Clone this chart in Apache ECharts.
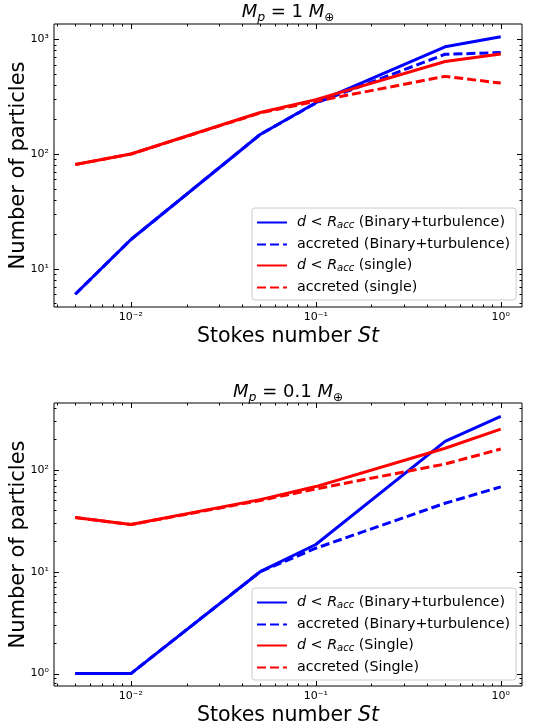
<!DOCTYPE html>
<html>
<head>
<meta charset="utf-8">
<script src="https://cdn.jsdelivr.net/npm/echarts@6/dist/echarts.min.js"></script>
<style>
html,body{margin:0;padding:0;background:#fff;}
#c{width:537px;height:727px;}
</style>
</head>
<body>
<div id="c"></div>
<script>
// ---------- data ----------
const stokes = [0.005, 0.01, 0.05, 0.1, 0.5, 1];

// Top panel: M_p = 1 M_earth
const topBinaryRacc     = [6, 18, 148, 280, 860, 1050];
const topBinaryAccreted = [6, 18, 148, 278, 740, 765];
const topSingleRacc     = [81, 100, 230, 298, 640, 745];
const topSingleAccreted = [81, 100, 228, 288, 475, 415];

// Bottom panel: M_p = 0.1 M_earth
const botBinaryRacc     = [1, 1, 10, 18.5, 190, 335];
const botBinaryAccreted = [1, 1, 10, 17, 47, 68];
const botSingleRacc     = [34, 29, 51, 68.5, 163, 251];
const botSingleAccreted = [34, 29, 50, 65, 114, 160];

const xMajorTicks = [0.01, 0.1, 1];
const yMajorTicksTop = [10, 100, 1000];
const yMajorTicksBot = [1, 10, 100];

const topTitle = '{i|M}{sp|p}{n| = 1 }{i|M}{so|⊕}';
const botTitle = '{i|M}{sp|p}{n| = 0.1 }{i|M}{so|⊕}';
const xLabel = '{n|Stokes number }{i|St}';
const yLabel = 'Number of particles';

const topLegend = [
  '{i|d}{n| < }{i|R}{s|acc}{n| (Binary+turbulence)}',
  '{n|accreted (Binary+turbulence)}',
  '{i|d}{n| < }{i|R}{s|acc}{n| (single)}',
  '{n|accreted (single)}'
];
const botLegend = [
  '{i|d}{n| < }{i|R}{s|acc}{n| (Binary+turbulence)}',
  '{n|accreted (Binary+turbulence)}',
  '{i|d}{n| < }{i|R}{s|acc}{n| (Single)}',
  '{n|accreted (Single)}'
];

// ---------- helpers ----------
const FONT = 'DejaVu Sans';
const BLUE = '#0000ff', RED = '#ff0000';
const xMin = Math.pow(10, -2.416), xMax = Math.pow(10, 0.115);
const yRangeTop = [Math.pow(10, 0.667), Math.pow(10, 3.133)];
const yRangeBot = [Math.pow(10, -0.122), Math.pow(10, 2.656)];

const supMap = {'-':'⁻','0':'⁰','1':'¹','2':'²','3':'³','4':'⁴','5':'⁵','6':'⁶','7':'⁷','8':'⁸','9':'⁹'};
function powLabel(v) {
  const e = Math.log10(v), r = Math.round(e);
  if (Math.abs(e - r) > 1e-6) return '';
  return '10' + String(r).split('').map(c => supMap[c]).join('');
}
function pairs(ys) { return stokes.map((x, i) => [x, ys[i]]); }

function minorList(lo, hi) {
  const out = [];
  for (let k = -4; k <= 4; k++) {
    for (let m = 2; m <= 9; m++) {
      const v = m * Math.pow(10, k);
      if (v > lo && v < hi) out.push(v);
    }
  }
  return out;
}
function tickData(xMaj, yMaj, yr) {
  const d = [];
  xMaj.forEach(v => d.push([v, yr[0], 1]));
  minorList(xMin, xMax).forEach(v => d.push([v, yr[0], 2]));
  yMaj.forEach(v => d.push([xMin, v, 3]));
  minorList(yr[0], yr[1]).forEach(v => d.push([xMin, v, 4]));
  return d;
}
function renderTicks(params, api) {
  const cs = params.coordSys;
  const kind = api.value(2);
  const st = {stroke: '#000', lineWidth: 1};
  if (kind === 1 || kind === 2) {
    const L = kind === 1 ? 5 : 2.5;
    const x = Math.round(api.coord([api.value(0), api.value(1)])[0]) + 0.5;
    const yb = cs.y + cs.height, yt = cs.y;
    return {type: 'group', children: [
      {type: 'line', shape: {x1: x, y1: yb, x2: x, y2: yb - L}, style: st},
      {type: 'line', shape: {x1: x, y1: yt, x2: x, y2: yt + L}, style: st}
    ]};
  } else {
    const L = kind === 3 ? 5 : 2.5;
    const y = Math.round(api.coord([api.value(0), api.value(1)])[1]) + 0.5;
    const xl = cs.x, xr = cs.x + cs.width;
    return {type: 'group', children: [
      {type: 'line', shape: {x1: xl, y1: y, x2: xl + L, y2: y}, style: st},
      {type: 'line', shape: {x1: xr, y1: y, x2: xr - L, y2: y}, style: st}
    ]};
  }
}

const titleRich = {
  i: {fontFamily: FONT, fontStyle: 'italic', fontWeight: 'normal', fontSize: 18, color: '#000', lineHeight: 21, verticalAlign: 'top'},
  n: {fontFamily: FONT, fontWeight: 'normal', fontSize: 18, color: '#000', lineHeight: 21, verticalAlign: 'top'},
  sp: {fontFamily: FONT, fontStyle: 'italic', fontWeight: 'normal', fontSize: 12.5, color: '#000', lineHeight: 14, verticalAlign: 'bottom'},
  so: {fontFamily: FONT, fontWeight: 'normal', fontSize: 12, color: '#000', lineHeight: 15, verticalAlign: 'bottom'}
};
const nameRich = {
  n: {fontFamily: FONT, fontSize: 20.5, color: '#000'},
  i: {fontFamily: FONT, fontSize: 20.5, fontStyle: 'italic', color: '#000'}
};
const legendRich = {
  n: {fontFamily: FONT, fontSize: 14.3, color: '#000', lineHeight: 15, verticalAlign: 'top'},
  i: {fontFamily: FONT, fontSize: 14.3, fontStyle: 'italic', color: '#000', lineHeight: 15, verticalAlign: 'top'},
  s: {fontFamily: FONT, fontSize: 10, fontStyle: 'italic', color: '#000', lineHeight: 12, verticalAlign: 'bottom'}
};

function xAxisDef(gridIndex) {
  return {
    type: 'log', logBase: 10, gridIndex, min: xMin, max: xMax, splitNumber: 3,
    axisLine: {show: false}, axisTick: {show: false}, splitLine: {show: false},
    axisLabel: {formatter: powLabel, fontFamily: FONT, fontSize: 11, color: '#000', margin: 5,
                showMinLabel: true, showMaxLabel: true, hideOverlap: false},
    name: xLabel, nameLocation: 'middle', nameGap: 19, nameMoveOverlap: false,
    nameTextStyle: {rich: nameRich, fontFamily: FONT, fontSize: 20.5, color: '#000', verticalAlign: 'top'}
  };
}
function yAxisDef(gridIndex, yr) {
  return {
    type: 'log', logBase: 10, gridIndex, min: yr[0], max: yr[1], splitNumber: 3,
    axisLine: {show: false}, axisTick: {show: false}, splitLine: {show: false},
    axisLabel: {formatter: powLabel, fontFamily: FONT, fontSize: 11, color: '#000', margin: 5,
                hideOverlap: false},
    name: yLabel, nameLocation: 'middle', nameGap: 25, nameRotate: 90, nameMoveOverlap: false,
    nameTextStyle: {fontFamily: FONT, fontSize: 21, color: '#000'}
  };
}
function lineSeries(name, ys, color, dashed, gi) {
  return {
    name, type: 'line', xAxisIndex: gi, yAxisIndex: gi, data: pairs(ys),
    symbol: 'none', showSymbol: false, animation: false, silent: true,
    lineStyle: {color, width: 3, type: dashed ? [9, 4] : 'solid', cap: 'butt', join: 'round'},
    itemStyle: {color}
  };
}
function legendDef(top, names, labels) {
  const map = {};
  names.forEach((n, i) => map[n] = labels[i]);
  return {
    data: names, orient: 'vertical', left: 252, top, selectedMode: false,
    itemWidth: 30, itemHeight: 14, itemGap: 7,
    padding: [7, 6, 6, 4],
    itemStyle: {opacity: 0, borderWidth: 0},
    backgroundColor: 'rgba(255,255,255,0.85)', borderColor: '#cccccc', borderWidth: 1, borderRadius: 3,
    formatter: n => map[n],
    textStyle: {fontFamily: FONT, fontSize: 14.3, color: '#000', rich: legendRich, padding: [0, 0, 0, 5]}
  };
}

const topNames = ['tBR', 'tBA', 'tSR', 'tSA'];
const botNames = ['bBR', 'bBA', 'bSR', 'bSA'];

const gridBase = {left: 54, width: 468, height: 283, show: true, borderColor: '#000', borderWidth: 1,
                  backgroundColor: 'transparent', containLabel: false, outerBoundsMode: 'none'};

const option = {
  animation: false,
  backgroundColor: '#fff',
  title: [
    {text: topTitle, left: 288, top: 3, textAlign: 'center', padding: 0,
     textStyle: {rich: titleRich, fontWeight: 'normal', fontFamily: FONT}},
    {text: botTitle, left: 288, top: 383, textAlign: 'center', padding: 0,
     textStyle: {rich: titleRich, fontWeight: 'normal', fontFamily: FONT}}
  ],
  grid: [
    Object.assign({}, gridBase, {top: 24}),
    Object.assign({}, gridBase, {top: 403})
  ],
  xAxis: [xAxisDef(0), xAxisDef(1)],
  yAxis: [yAxisDef(0, yRangeTop), yAxisDef(1, yRangeBot)],
  legend: [
    legendDef(208, topNames, topLegend),
    legendDef(588, botNames, botLegend)
  ],
  series: [
    lineSeries('tBR', topBinaryRacc, BLUE, false, 0),
    lineSeries('tBA', topBinaryAccreted, BLUE, true, 0),
    lineSeries('tSR', topSingleRacc, RED, false, 0),
    lineSeries('tSA', topSingleAccreted, RED, true, 0),
    lineSeries('bBR', botBinaryRacc, BLUE, false, 1),
    lineSeries('bBA', botBinaryAccreted, BLUE, true, 1),
    lineSeries('bSR', botSingleRacc, RED, false, 1),
    lineSeries('bSA', botSingleAccreted, RED, true, 1),
    {type: 'custom', xAxisIndex: 0, yAxisIndex: 0, silent: true, clip: false, z: 5,
     data: tickData(xMajorTicks, yMajorTicksTop, yRangeTop), renderItem: renderTicks},
    {type: 'custom', xAxisIndex: 1, yAxisIndex: 1, silent: true, clip: false, z: 5,
     data: tickData(xMajorTicks, yMajorTicksBot, yRangeBot), renderItem: renderTicks}
  ]
};

const chart = echarts.init(document.getElementById('c'), null, {renderer: 'canvas'});
chart.setOption(option);
</script>
</body>
</html>
